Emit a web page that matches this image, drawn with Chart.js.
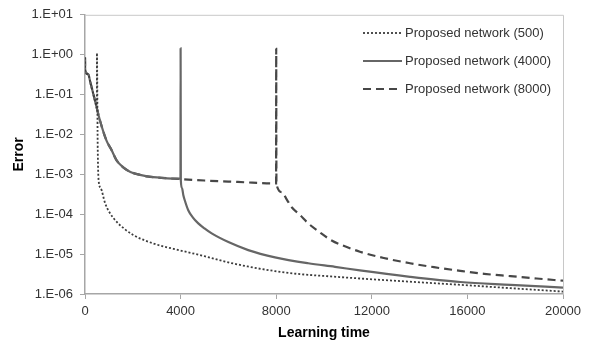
<!DOCTYPE html>
<html>
<head>
<meta charset="utf-8">
<script src="https://cdn.jsdelivr.net/npm/chart.js@4"></script>
<style>
  body { margin: 0; background: #fff; }
  #wrap { width: 589px; height: 344px; }
</style>
</head>
<body>
<div id="wrap"><canvas id="errorChart" width="589" height="344"></canvas></div>
<script>
// values (learning time vs error)
const time500 = [0, 5, 15, 140, 210, 420, 495, 500, 530, 570, 660, 840, 1030, 1330, 1650, 2020, 2860, 4000, 5000, 5860, 6800, 7950, 9000, 10300, 11500, 13500, 15700, 17800, 20000];
const err500 = [0.85, 0.5, 0.38, 0.32, 0.22, 0.07, 0.047, 1.1, 0.006, 0.0007, 0.00045, 0.00019, 0.00011, 0.000064, 0.000043, 0.00003, 0.0000185, 0.0000123, 0.0000089, 0.0000065, 0.0000049, 0.00000375, 0.00000315, 0.00000275, 0.00000245, 0.00000205, 0.0000017, 0.0000014, 0.00000115];

const time4000 = [0, 5, 15, 140, 210, 420, 630, 900, 1100, 1330, 1600, 1900, 2300, 2600, 3200, 3995, 4000, 4010, 4060, 4115, 4200, 4320, 4500, 4740, 5000, 5300, 6000, 6830, 7950, 9340, 10460, 11500, 13600, 15700, 17800, 20000];
const err4000 = [0.85, 0.5, 0.38, 0.32, 0.22, 0.07, 0.022, 0.007, 0.0042, 0.0022, 0.0015, 0.00115, 0.00097, 0.00089, 0.00082, 0.00078, 1.45, 0.0007, 0.00045, 0.0003, 0.0002, 0.000126, 0.000085, 0.000059, 0.000044, 0.000033, 0.00002, 0.0000126, 0.0000083, 0.0000059, 0.0000048, 0.0000039, 0.0000027, 0.000002, 0.0000017, 0.00000145];

const time8000 = [0, 5, 15, 140, 210, 420, 630, 900, 1100, 1330, 1600, 1900, 2300, 2600, 3200, 4000, 5000, 6000, 7000, 7995, 8000, 8010, 8230, 8450, 8650, 9000, 9340, 9800, 10320, 10900, 11500, 12500, 13600, 14600, 15700, 16700, 17800, 18900, 20000];
const err8000 = [0.85, 0.5, 0.38, 0.32, 0.22, 0.07, 0.022, 0.007, 0.0042, 0.0022, 0.0015, 0.00115, 0.00097, 0.00089, 0.00082, 0.00076, 0.0007, 0.00066, 0.00062, 0.00059, 1.4, 0.00058, 0.00036, 0.00023, 0.00015, 0.000095, 0.000059, 0.000036, 0.000022, 0.0000155, 0.0000115, 0.000008, 0.0000059, 0.0000047, 0.0000038, 0.0000032, 0.0000028, 0.00000245, 0.00000215];

const seriesLabels = ['Proposed network (500)', 'Proposed network (4000)', 'Proposed network (8000)'];
const yTickValues = [1e-6, 1e-5, 1e-4, 1e-3, 1e-2, 1e-1, 1, 10];
const xTickStep = 4000;

function toPoints(xs, ys) {
  return xs.map((x, i) => ({ x: x, y: ys[i] }));
}

// Excel style "1.E-03"
function expLabel(v) {
  const e = Math.round(Math.log10(v));
  return '1.E' + (e < 0 ? '-' : '+') + String(Math.abs(e)).padStart(2, '0');
}

// light frame on top and right of the plot
const frame = {
  id: 'frame',
  beforeDatasetsDraw(chart) {
    const { ctx, chartArea: a } = chart;
    ctx.save();
    ctx.strokeStyle = '#c8c8c8';
    ctx.lineWidth = 1;
    ctx.beginPath();
    ctx.moveTo(a.left, a.top + 0.5);
    ctx.lineTo(a.right + 0.5, a.top + 0.5);
    ctx.lineTo(a.right + 0.5, a.bottom);
    ctx.stroke();
    ctx.restore();
  }
};

// legend drawn inside the top right of the plot
const insideLegend = {
  id: 'insideLegend',
  afterDraw(chart) {
    const ctx = chart.ctx;
    ctx.save();
    ctx.font = '13px "Liberation Sans", Arial, sans-serif';
    ctx.textBaseline = 'middle';
    ctx.fillStyle = '#333';
    chart.data.datasets.forEach((ds, i) => {
      const y = 33 + i * 28;
      ctx.strokeStyle = ds.borderColor;
      ctx.lineWidth = ds.borderWidth;
      ctx.setLineDash(ds.borderDash || []);
      ctx.beginPath();
      ctx.moveTo(363, y);
      ctx.lineTo(402, y);
      ctx.stroke();
      ctx.setLineDash([]);
      ctx.fillText(ds.label, 405, y);
    });
    ctx.restore();
  }
};

const ctx = document.getElementById('errorChart').getContext('2d');
new Chart(ctx, {
  type: 'line',
  data: {
    datasets: [
      {
        label: seriesLabels[0],
        data: toPoints(time500, err500),
        borderColor: '#3c3c3c',
        borderWidth: 1.8,
        borderDash: [2, 2]
      },
      {
        label: seriesLabels[1],
        data: toPoints(time4000, err4000),
        borderColor: '#666666',
        borderWidth: 2.2
      },
      {
        label: seriesLabels[2],
        data: toPoints(time8000, err8000),
        borderColor: '#474747',
        borderWidth: 2.2,
        borderDash: [8, 5]
      }
    ]
  },
  options: {
    responsive: false,
    animation: false,
    devicePixelRatio: 1,
    elements: { point: { radius: 0 }, line: { cubicInterpolationMode: 'monotone' } },
    layout: { padding: { left: 0, right: 26, top: 14, bottom: 0 } },
    plugins: {
      legend: { display: false },
      tooltip: { enabled: false }
    },
    scales: {
      x: {
        type: 'linear',
        min: 0,
        max: 20000,
        grid: { drawOnChartArea: false, color: '#a6a6a6', tickLength: 5 },
        border: { color: '#a6a6a6', width: 1.5 },
        ticks: {
          stepSize: xTickStep,
          padding: 5,
          color: '#333',
          font: { family: '"Liberation Sans", Arial, sans-serif', size: 13 },
          callback: v => String(v)
        },
        title: {
          display: true,
          text: 'Learning time',
          color: '#000',
          font: { family: '"Liberation Sans", Arial, sans-serif', size: 14, weight: 'bold' },
          padding: { top: 0, bottom: 2 }
        },
        afterFit: scale => { scale.height = 50; }
      },
      y: {
        type: 'logarithmic',
        min: 1e-6,
        max: 10,
        grid: { drawOnChartArea: false, color: '#a6a6a6', tickLength: 5 },
        border: { color: '#a6a6a6', width: 1.5 },
        afterBuildTicks: scale => {
          scale.ticks = yTickValues.map(v => ({ value: v }));
        },
        ticks: {
          padding: 7,
          color: '#333',
          font: { family: '"Liberation Sans", Arial, sans-serif', size: 13 },
          callback: v => expLabel(v)
        },
        title: {
          display: true,
          text: 'Error',
          color: '#000',
          font: { family: '"Liberation Sans", Arial, sans-serif', size: 14, weight: 'bold' },
          padding: { top: 11, bottom: 0 }
        },
        afterFit: scale => { scale.width = 85; }
      }
    }
  },
  plugins: [frame, insideLegend]
});
</script>
</body>
</html>
